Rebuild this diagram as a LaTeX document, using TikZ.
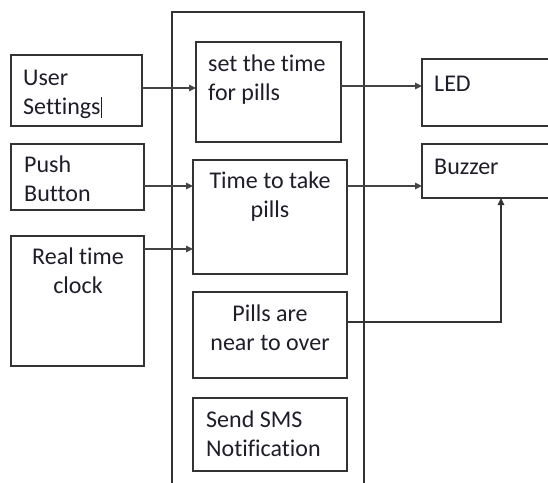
\documentclass[tikz,border=0pt]{standalone}
\usepackage{fontspec}
\setmainfont[Ligatures=NoCommon]{Carlito}
\usetikzlibrary{arrows.meta}
\definecolor{boxline}{HTML}{333333}
\definecolor{arrline}{HTML}{444444}
\definecolor{txt}{HTML}{1E1E2A}
\begin{document}
\begin{tikzpicture}[x=1pt,y=-1pt,
  box/.style={draw=boxline,line width=1.6pt,inner sep=0pt,outer sep=0pt,anchor=north west},
  txtl/.style={inner sep=0pt,anchor=north west,align=left,text=txt,font=\fontsize{24}{29}\selectfont,execute at begin node=\rule{0pt}{18pt}},
  txtc/.style={inner sep=0pt,anchor=north,align=center,text=txt,font=\fontsize{24}{29}\selectfont,execute at begin node=\rule{0pt}{18pt}},
  arr/.style={draw=arrline,line width=1.4pt,-{Triangle[length=7pt,width=6.5pt]}}]
\clip (0,0) rectangle (548,482);
\fill[white] (0,0) rectangle (548,482);
% big container (open at bottom)
\draw[boxline,line width=1.6pt] (172,495) -- (172,12) -- (364,12) -- (364,495);
% left boxes
\node[box,minimum width=131pt,minimum height=71pt] (us) at (11,55) {};
\node[box,minimum width=133pt,minimum height=66pt] (pb) at (11,144) {};
\node[box,minimum width=133pt,minimum height=130pt] (rtc) at (11,236) {};
% middle boxes
\node[box,minimum width=145pt,minimum height=100pt] (set) at (196,42) {};
\node[box,minimum width=154pt,minimum height=114pt] (ttp) at (193,160) {};
\node[box,minimum width=154pt,minimum height=86pt] (pno) at (193,292) {};
\node[box,minimum width=154pt,minimum height=73pt] (sms) at (193,398) {};
% right boxes
\node[box,minimum width=158pt,minimum height=67pt] (led) at (422,59) {};
\node[box,minimum width=158pt,minimum height=54pt] (buz) at (422,144) {};
% texts
\node[txtl] (tus) at (23,70) {User\\Settings\rule[-3pt]{1.3pt}{21pt}};
\node[txtl] (tpb) at (24,156) {Push\\Button};
\node[txtc] (trtc) at (78,248) {Real time\\clock};
\node[txtl] (tset) at (208,55) {set the time\\for pills};
\node[txtc] (tttp) at (270,172) {Time to take\\pills};
\node[txtc] (tpno) at (270,305) {Pills are\\near to over};
\node[txtl] (tsms) at (206,411) {Send SMS\\Notification};
\node[txtl] (tled) at (434,73) {LED};
\node[txtl] (tbuz) at (434,156) {Buzzer};
% connectors
\draw[arr] ([yshift=2.5pt]us.east) -- ([yshift=2.5pt]us.east -| set.west);
\draw[arr] ([yshift=-9pt]pb.east) -- ([yshift=-9pt]pb.east -| ttp.west);
\draw[arr] ([yshift=-13pt]rtc.north east) -- ([yshift=-13pt]rtc.north east -| ttp.west);
\draw[arr] ([yshift=6pt]set.east) -- ([yshift=6pt]set.east -| led.west);
\draw[arr] ([yshift=-26pt]ttp.north east) -- ([yshift=-26pt]ttp.north east -| buz.west);
\draw[arr,draw=boxline] ([yshift=13pt]pno.east) -| (buz.south);
\end{tikzpicture}
\end{document}
